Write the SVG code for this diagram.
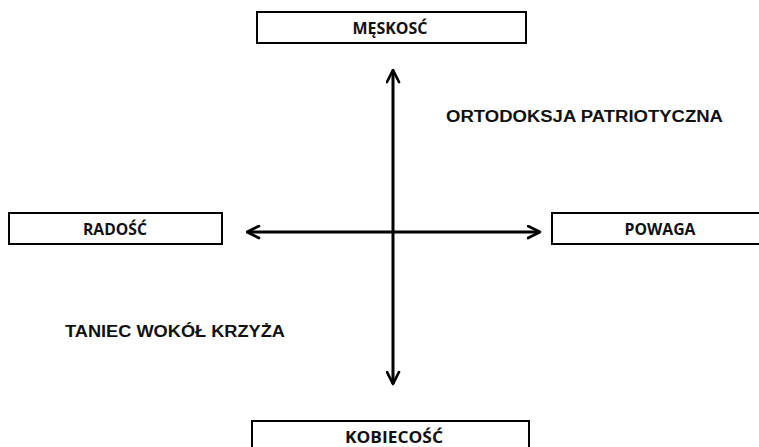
<svg xmlns="http://www.w3.org/2000/svg" width="759" height="447" viewBox="0 0 759 447">
<defs>
<marker id="ah" viewBox="0 0 10 10" refX="9" refY="5" markerWidth="5" markerHeight="5" orient="auto-start-reverse" markerUnits="strokeWidth">
<path d="M1,1 L9,5 L1,9" fill="none" stroke="#000" stroke-width="1.8" stroke-linecap="round" stroke-linejoin="round"/>
</marker>
<style>
.box{fill:#fff;stroke:#000;stroke-width:2}
.bl{font-family:"Open Sans","Noto Sans",sans-serif;font-weight:bold;font-size:16.5px;text-anchor:middle;fill:#111}
.lab{font-family:"Liberation Sans",Arial,sans-serif;font-weight:bold;font-size:16px;fill:#111}
.ax{stroke:#000;stroke-width:3;fill:none}
</style>
</defs>
<rect width="759" height="447" fill="#fff"/>
<g id="connectors">
<line class="ax" x1="393" y1="70" x2="393" y2="384" marker-start="url(#ah)" marker-end="url(#ah)"/>
<line class="ax" x1="247" y1="232" x2="540" y2="232" marker-start="url(#ah)" marker-end="url(#ah)"/>
</g>
<g id="meskosc">
<rect class="box" x="257" y="12" width="269" height="31"/>
<text class="bl" x="390" y="34" textLength="75" lengthAdjust="spacingAndGlyphs">MĘSKOSĆ</text>
</g>
<g id="radosc">
<rect class="box" x="9" y="213" width="213" height="31"/>
<text class="bl" x="115" y="235" textLength="64" lengthAdjust="spacingAndGlyphs">RADOŚĆ</text>
</g>
<g id="powaga">
<rect class="box" x="552" y="213" width="215" height="31"/>
<text class="bl" x="660" y="235" textLength="71" lengthAdjust="spacingAndGlyphs">POWAGA</text>
</g>
<g id="kobiecosc">
<rect class="box" x="252" y="421" width="277" height="31"/>
<text class="bl" x="394" y="443" textLength="98" lengthAdjust="spacingAndGlyphs">KOBIECOŚĆ</text>
</g>
<g id="labels">
<text class="lab" x="446" y="122" textLength="277" lengthAdjust="spacingAndGlyphs">ORTODOKSJA PATRIOTYCZNA</text>
<text class="lab" x="65" y="337" textLength="220" lengthAdjust="spacingAndGlyphs">TANIEC WOKÓŁ KRZYŻA</text>
</g>
</svg>
